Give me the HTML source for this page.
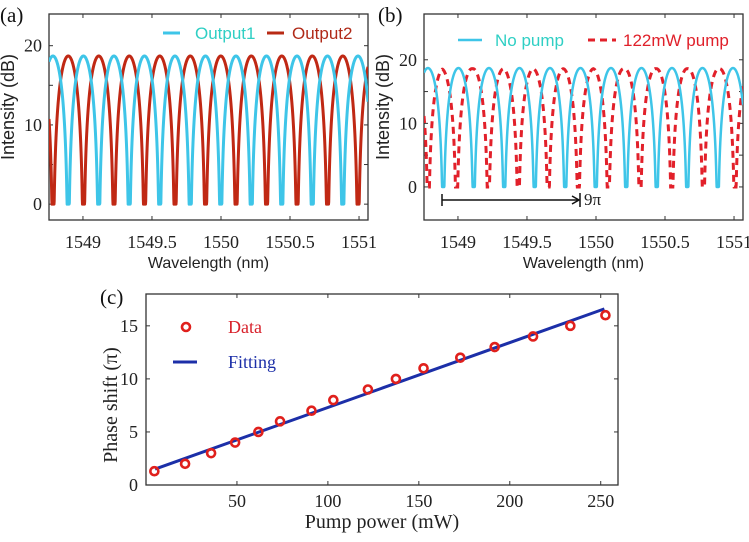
<!DOCTYPE html>
<html><head><meta charset="utf-8">
<style>
html,body{margin:0;padding:0;background:#fff;}
svg{display:block;}
.tk{font-family:"Liberation Serif",serif;font-size:18px;fill:#222;}
.at{font-family:"Liberation Sans",sans-serif;font-size:15px;fill:#222;}
.lg{font-family:"Liberation Sans",sans-serif;font-size:17px;}
.atc{font-family:"Liberation Serif",serif;font-size:19px;fill:#222;}
.pl{font-family:"Liberation Serif",serif;font-size:21px;fill:#111;}
</style></head>
<body>
<svg id="fig" width="749" height="542" viewBox="0 0 749 542">
<g id="pa"></g>
<g id="pb"></g>
<g id="pc"></g>
</svg>
<script>
// ---- data ----
const output1Dips = [1548.893,1549.114,1549.335,1549.556,1549.777,1549.998,1550.219,1550.440,1550.661,1550.882,1551.103];
const output2Dips = [1548.783,1549.004,1549.225,1549.446,1549.667,1549.888,1550.109,1550.330,1550.551,1550.772,1550.993];
const pump122Dips = [1548.785,1548.990,1549.220,1549.437,1549.654,1549.872,1550.089,1550.319,1550.549,1550.778,1551.007];
const peakLevels = [18.7, 18.7, 18.6]; // output1/no pump, output2, 122mW
const wlTicks = [1549, 1549.5, 1550, 1550.5, 1551];
const wlTickLabels = ["1549","1549.5","1550","1550.5","1551"];
const intTicksA = [0, 10, 20];
const intTicksB = [0, 10, 20];
const pumpPower = [4.6,21.5,35.8,49,61.8,73.7,91,103,122,137.4,152.6,172.8,191.7,212.8,233.3,252.6];
const phaseShift = [1.3,2,3,4,5,6,7,8,9,10,11,12,13,14,15,16];
const fitX = [5, 252];
const fitY = [1.5, 16.6];
const pumpTicks = [50,100,150,200,250];
const phaseTicks = [0,5,10,15];

const NS="http://www.w3.org/2000/svg";
function mk(parent, tag, attrs, text){
  const e=document.createElementNS(NS,tag);
  for(const k in attrs) e.setAttribute(k,attrs[k]);
  if(text!==undefined) e.textContent=text;
  parent.appendChild(e); return e;
}
function scale(d0,d1,r0,r1){return v=>r0+(v-d0)/(d1-d0)*(r1-r0);}
function spectrum(dips, peak, wl){
  const P=(dips[dips.length-1]-dips[0])/(dips.length-1);
  let best=dips[0];
  for(const d of dips) if(Math.abs(wl-d)<Math.abs(wl-best)) best=d;
  const s=Math.sin(Math.PI*(wl-best)/P);
  const v=peak+10*Math.log10(Math.max(s*s,1e-9));
  return Math.max(0,v);
}
function curvePath(dips,peak,xs,ys,w0,w1){
  let d="";
  const N=1600;
  for(let i=0;i<=N;i++){
    const wl=w0+(w1-w0)*i/N;
    d+=(i?"L":"M")+xs(wl).toFixed(2)+","+ys(spectrum(dips,peak,wl)).toFixed(2);
  }
  return d;
}

function spectrumPanel(g, L, R, T, B, yMin, yMax, yTicks, yMinor){
  const xs=scale(1548.754,1551.065,L,R), ys=scale(yMin,yMax,B,T);
  const clipId=g.id+"clip";
  const cp=mk(g,"clipPath",{id:clipId}); mk(cp,"rect",{x:L,y:T,width:R-L,height:B-T});
  const frame=mk(g,"rect",{x:L,y:T,width:R-L,height:B-T,fill:"none",stroke:"#333","stroke-width":1.3});
  
  
  wlTicks.forEach((t,i)=>{
    const x=xs(t);
    mk(g,"line",{x1:x,x2:x,y1:B,y2:B-4,stroke:"#333"});
    mk(g,"line",{x1:x,x2:x,y1:T,y2:T+4,stroke:"#333"});
    const tl=mk(g,"text",{x:x,y:B+28,"text-anchor":"middle",class:"tk"},wlTickLabels[i]);
    
    
  });
  yMinor.forEach(t=>{
    const y=ys(t);
    mk(g,"line",{x1:L,x2:L+4,y1:y,y2:y,stroke:"#333"});
    mk(g,"line",{x1:R,x2:R-4,y1:y,y2:y,stroke:"#333"});
  });
  yTicks.forEach(t=>{
    const y=ys(t);
    const tl=mk(g,"text",{x:L-7,y:y+6,"text-anchor":"end",class:"tk"},String(t));
    
    
  });
  const xt=mk(g,"text",{x:(L+R)/2,y:B+48,"text-anchor":"middle",class:"at",style:"font-size:16px"},"Wavelength (nm)");
  
  
  const cy=107;
  const yt=mk(g,"text",{x:L-35,y:cy,"text-anchor":"middle",class:"at",style:"font-size:18px",transform:`rotate(-90 ${L-35} ${cy})`},"Intensity (dB)");
  
  
  return {xs,ys,clipId};
}

// ---- panel a ----
(function(){
  const g=document.getElementById("pa");
  const {xs,ys,clipId}=spectrumPanel(g,49,368,14,220,-2,24,intTicksA,[0,5,10,15,20]);
  const c=mk(g,"g",{"clip-path":`url(#${clipId})`});
  const p2=mk(c,"path",{d:curvePath(output2Dips,peakLevels[1],xs,ys,1548.754,1551.065),fill:"none",stroke:"#c02814","stroke-width":3,"stroke-linejoin":"round"});
  
  
  const p1=mk(c,"path",{d:curvePath(output1Dips,peakLevels[0],xs,ys,1548.754,1551.065),fill:"none",stroke:"#3ec5e8","stroke-width":3,"stroke-linejoin":"round"});
  
  
  const l1=mk(g,"line",{x1:163,x2:180,y1:33,y2:33,stroke:"#3ec5e8","stroke-width":3});
  
  
  const t1=mk(g,"text",{x:195,y:39,class:"lg",style:"fill:#2fcfc4"},"Output1");
  
  
  const l2=mk(g,"line",{x1:267,x2:284,y1:33,y2:33,stroke:"#b82a14","stroke-width":3});
  
  
  const t2=mk(g,"text",{x:292,y:39,class:"lg",style:"fill:#b02a18"},"Output2");
  
  
  const lab=mk(g,"text",{x:0,y:22,class:"pl"},"(a)");
  
  
})();

// ---- panel b ----
(function(){
  const g=document.getElementById("pb");
  const {xs,ys,clipId}=spectrumPanel(g,424,743,14,220,-5.2,27.2,intTicksB,[0,5,10,15,20]);
  const c=mk(g,"g",{"clip-path":`url(#${clipId})`});
  const p2=mk(c,"path",{d:curvePath(pump122Dips,peakLevels[2],xs,ys,1548.754,1551.065),fill:"none",stroke:"#e2202a","stroke-width":3,"stroke-dasharray":"7,5"});
  
  
  const p1=mk(c,"path",{d:curvePath(output1Dips,peakLevels[0],xs,ys,1548.754,1551.065),fill:"none",stroke:"#3ec5e8","stroke-width":2.5,"stroke-linejoin":"round"});
  
  
  const l1=mk(g,"line",{x1:458,x2:482,y1:40,y2:40,stroke:"#3ec5e8","stroke-width":2.5});
  
  
  const t1=mk(g,"text",{x:495,y:46,class:"lg",style:"fill:#2fcfc4"},"No pump");
  
  
  const l2=mk(g,"line",{x1:588,x2:616,y1:40,y2:40,stroke:"#e2202a","stroke-width":3,"stroke-dasharray":"7,5"});
  
  
  const t2=mk(g,"text",{x:623,y:46,class:"lg",style:"fill:#e0202a"},"122mW pump");
  
  
  // arrow
  const ay=200;
  mk(g,"line",{x1:442,x2:442,y1:ay-6,y2:ay+6,stroke:"#111","stroke-width":1.5});
  const ar=mk(g,"line",{x1:442,x2:578,y1:ay,y2:ay,stroke:"#111","stroke-width":1.5});
  
  
  mk(g,"path",{d:`M572,${ay-4} L579,${ay} L572,${ay+4}`,fill:"none",stroke:"#111","stroke-width":1.5});
  mk(g,"line",{x1:580,x2:580,y1:ay-7,y2:ay+7,stroke:"#111","stroke-width":1.5});
  const nt=mk(g,"text",{x:584,y:ay+5,class:"tk",style:"font-size:17px"},"9π");
  
  
  const lab=mk(g,"text",{x:378,y:22,class:"pl"},"(b)");
  
  
})();

// ---- panel c ----
(function(){
  const g=document.getElementById("pc");
  const L=146,R=618,T=294,B=485;
  const xs=scale(0,259.5,L,R), ys=scale(0,18,B,T);
  const frame=mk(g,"rect",{x:L,y:T,width:R-L,height:B-T,fill:"none",stroke:"#333","stroke-width":1.3});
  
  
  pumpTicks.forEach(t=>{
    const x=xs(t);
    mk(g,"line",{x1:x,x2:x,y1:B,y2:B-4,stroke:"#333"});
    mk(g,"line",{x1:x,x2:x,y1:T,y2:T+4,stroke:"#333"});
    const tl=mk(g,"text",{x:x,y:B+22,"text-anchor":"middle",class:"tk"},String(t));
    
    
  });
  phaseTicks.forEach(t=>{
    const y=ys(t);
    mk(g,"line",{x1:L,x2:L+4,y1:y,y2:y,stroke:"#333"});
    mk(g,"line",{x1:R,x2:R-4,y1:y,y2:y,stroke:"#333"});
    const tl=mk(g,"text",{x:L-8,y:y+6,"text-anchor":"end",class:"tk"},String(t));
    
    
  });
  const fit=mk(g,"line",{x1:xs(fitX[0]),y1:ys(fitY[0]),x2:xs(fitX[1]),y2:ys(fitY[1]),stroke:"#1c2fa8","stroke-width":3});
  
  
  pumpPower.forEach((p,i)=>{
    const c=mk(g,"circle",{cx:xs(p),cy:ys(phaseShift[i]),r:4,fill:"none",stroke:"#e0201c","stroke-width":2.6});
    
    
  });
  const lm=mk(g,"circle",{cx:186,cy:327,r:4,fill:"none",stroke:"#e0201c","stroke-width":2.6});
  
  
  const lt=mk(g,"text",{x:228,y:333,class:"atc",style:"fill:#d8202a;font-size:18px"},"Data");
  
  
  const ll=mk(g,"line",{x1:173,x2:197,y1:362,y2:362,stroke:"#1c2fa8","stroke-width":3});
  
  
  const lf=mk(g,"text",{x:228,y:368,class:"atc",style:"fill:#1c2fa8;font-size:18px"},"Fitting");
  
  
  const xt=mk(g,"text",{x:382,y:528,"text-anchor":"middle",class:"atc",style:"font-size:20px"},"Pump power (mW)");
  
  
  const cy=405;
  const yt=mk(g,"text",{x:117,y:cy,"text-anchor":"middle",class:"atc",style:"font-size:20px",transform:`rotate(-90 117 ${cy})`},"Phase shift (π)");
  
  
  const lab=mk(g,"text",{x:100,y:304,class:"pl"},"(c)");
  
  
})();
</script>
</body></html>
